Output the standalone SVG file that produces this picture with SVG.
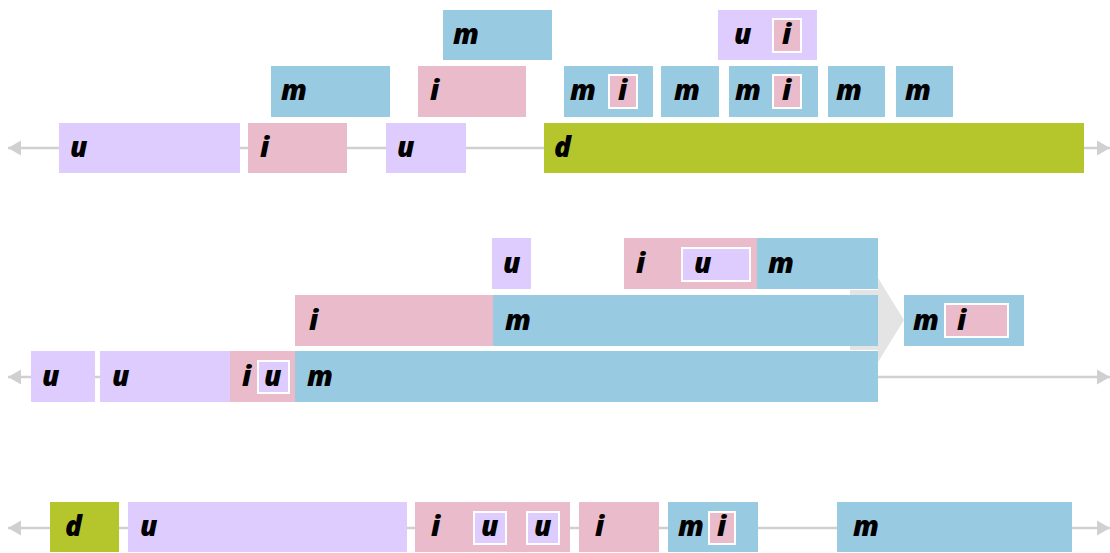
<svg xmlns="http://www.w3.org/2000/svg" width="1110" height="553" viewBox="0 0 1110 553">
<defs>
<style>
.u{fill:#dfccff}
.i{fill:#eabbca}
.m{fill:#98cae2}
.d{fill:#b5c62c}
.in{stroke:#ffffff;stroke-width:2}
.axis{stroke:#d0d0d0;stroke-width:2.5;fill:none}
text{font-family:"Open Sans","Noto Sans","DejaVu Sans",sans-serif;font-weight:800;font-style:italic;font-size:28px;fill:#000}
</style>
<marker id="ah" markerUnits="userSpaceOnUse" markerWidth="14" markerHeight="16" refX="13" refY="8" orient="auto-start-reverse">
<path d="M0,0.5 L13,8 L0,15.5 Z" fill="#d0d0d0"/>
</marker>
</defs>
<rect width="1110" height="553" fill="#ffffff"/>

<g id="connectors">
<line class="axis" x1="8" y1="148" x2="1110" y2="148" marker-start="url(#ah)" marker-end="url(#ah)"/>
<line class="axis" x1="8" y1="377" x2="1110" y2="377" marker-start="url(#ah)" marker-end="url(#ah)"/>
<line class="axis" x1="8" y1="528" x2="1110" y2="528" marker-start="url(#ah)" marker-end="url(#ah)"/>
<polygon id="transform-arrow" points="850,290 878,290 878,278 904,320 878,362 878,350 850,350" fill="#e4e4e4"/>
</g>

<!-- Row 1 -->
<g id="r1-u1"><rect class="u" x="59" y="123" width="181" height="50"/><text x="70" y="157">u</text></g>
<g id="r1-i1"><rect class="i" x="248" y="123" width="99" height="50"/><text x="260" y="157">i</text></g>
<g id="r1-u2"><rect class="u" x="386" y="123" width="80" height="50"/><text x="397" y="157">u</text></g>
<g id="r1-d"><rect class="d" x="544" y="123" width="540" height="50"/><text x="554" y="157">d</text></g>

<g id="r1-m1"><rect class="m" x="271" y="66" width="119" height="51"/><text x="281" y="100">m</text></g>
<g id="r1-i2"><rect class="i" x="418" y="66" width="108" height="51"/><text x="430" y="100">i</text></g>
<g id="r1-mi1"><rect class="m" x="564" y="66" width="89" height="51"/><text x="570" y="100">m</text><rect class="i in" x="609" y="75" width="28" height="33"/><text x="618" y="100">i</text></g>
<g id="r1-m2"><rect class="m" x="661" y="66" width="58" height="51"/><text x="674" y="100">m</text></g>
<g id="r1-mi2"><rect class="m" x="729" y="66" width="89" height="51"/><text x="735" y="100">m</text><rect class="i in" x="773" y="75" width="28" height="33"/><text x="782" y="100">i</text></g>
<g id="r1-m3"><rect class="m" x="828" y="66" width="57" height="51"/><text x="836" y="100">m</text></g>
<g id="r1-m4"><rect class="m" x="896" y="66" width="57" height="51"/><text x="905" y="100">m</text></g>

<g id="r1-m5"><rect class="m" x="443" y="10" width="109" height="50"/><text x="453" y="44">m</text></g>
<g id="r1-ui"><rect class="u" x="718" y="10" width="99" height="50"/><text x="734" y="44">u</text><rect class="i in" x="773" y="19" width="28" height="33"/><text x="782" y="44">i</text></g>

<!-- Row 2 -->
<g id="r2-u1"><rect class="u" x="31" y="351" width="64" height="51"/><text x="42" y="386">u</text></g>
<g id="r2-u2"><rect class="u" x="100" y="351" width="130" height="51"/><text x="112" y="386">u</text></g>
<g id="r2-iu"><rect class="i" x="230" y="351" width="65" height="51"/><text x="242" y="386">i</text><rect class="u in" x="258" y="361" width="31" height="32"/><text x="264" y="386">u</text></g>
<g id="r2-m1"><rect class="m" x="295" y="351" width="583" height="51"/><text x="307" y="386">m</text></g>

<g id="r2-i1"><rect class="i" x="295" y="295" width="198" height="51"/><text x="309" y="330">i</text></g>
<g id="r2-m2"><rect class="m" x="493" y="295" width="385" height="51"/><text x="505" y="330">m</text></g>

<g id="r2-u3"><rect class="u" x="492" y="238" width="39" height="51"/><text x="503" y="273">u</text></g>
<g id="r2-iu2"><rect class="i" x="624" y="238" width="133" height="51"/><text x="636" y="273">i</text><rect class="u in" x="682" y="248" width="68" height="33"/><text x="694" y="273">u</text></g>
<g id="r2-m3"><rect class="m" x="757" y="238" width="121" height="51"/><text x="768" y="273">m</text></g>

<g id="r2-mi"><rect class="m" x="904" y="295" width="120" height="51"/><text x="913" y="330">m</text><rect class="i in" x="945" y="304" width="63" height="33"/><text x="957" y="330">i</text></g>

<!-- Row 3 -->
<g id="r3-d"><rect class="d" x="50" y="502" width="69" height="50"/><text x="65" y="536">d</text></g>
<g id="r3-u"><rect class="u" x="128" y="502" width="279" height="50"/><text x="140" y="536">u</text></g>
<g id="r3-iuu"><rect class="i" x="415" y="502" width="155" height="50"/><text x="431" y="536">i</text><rect class="u in" x="474" y="512" width="32" height="32"/><text x="481" y="536">u</text><rect class="u in" x="527" y="512" width="32" height="32"/><text x="534" y="536">u</text></g>
<g id="r3-i"><rect class="i" x="579" y="502" width="80" height="50"/><text x="595" y="536">i</text></g>
<g id="r3-mi"><rect class="m" x="668" y="502" width="90" height="50"/><text x="678" y="536">m</text><rect class="i in" x="709" y="512" width="26" height="32"/><text x="717" y="536">i</text></g>
<g id="r3-m"><rect class="m" x="837" y="502" width="235" height="50"/><text x="853" y="536">m</text></g>
</svg>
